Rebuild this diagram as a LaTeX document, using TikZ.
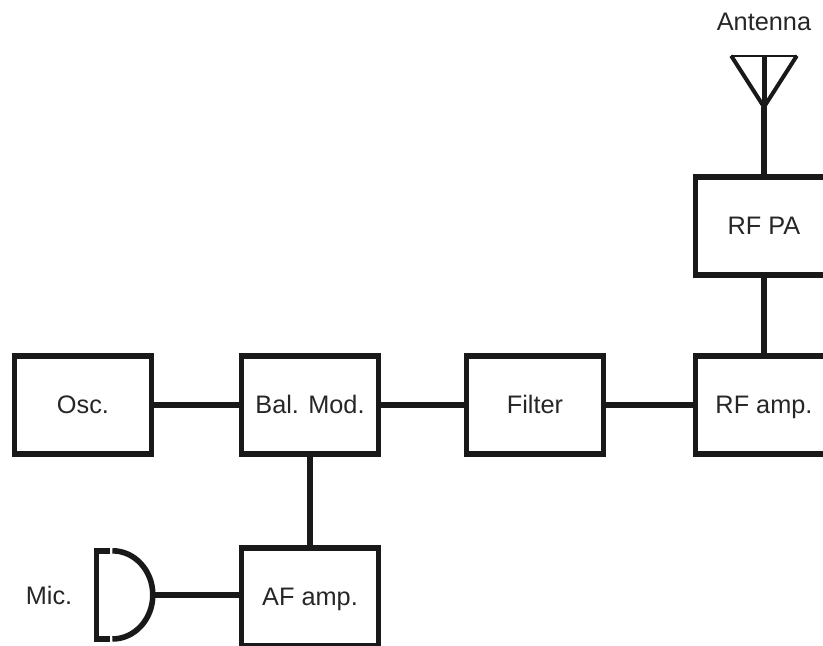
\documentclass[tikz,border=0pt]{standalone}
\usepackage{fontspec}
\setmainfont{Liberation Sans}
\usetikzlibrary{positioning}

\begin{document}
\begin{tikzpicture}[
    node distance=2.25cm and 2.25cm,
    block/.style={rectangle, draw=black!90, line width=1.3mm, minimum width=3.425cm, minimum height=2.45cm, align=center, outer sep=0pt, text height=0.47cm, text depth=0.02cm, font=\fontsize{18}{22}\selectfont, text=black!85},
    lbl/.style={align=center, inner sep=0pt, font=\fontsize{18}{22}\selectfont, text=black!85},
    wire/.style={draw=black!90, line width=1.6mm},
    thinwire/.style={draw=black!90, line width=1mm},
    micwire/.style={draw=black!90, line width=1.4mm}
]
\useasboundingbox (0,0) rectangle (20.575,16.15);

% Blocks along the main row
\node[block] (osc) at (2.075,6.025) {Osc.};
\node[block, right=2.25cm of osc] (balmod) {Bal. Mod.};
\node[block, right=2.2cm of balmod] (filter) {Filter};
\node[block, right=2.3cm of filter] (rfamp) {RF amp.};
\node[block, above=2.025cm of rfamp] (rfpa) {RF PA};
\node[block, below=2.35cm of balmod] (afamp) {AF amp.};

% Labels
\node[lbl] (micl) at (1.225,1.275) {Mic.};
\node[lbl, above=3.64cm of rfpa.north] (antl) {Antenna};

% Antenna
\coordinate[above=1.75cm of rfpa.north] (apex);
\coordinate[above=1.28cm of apex] (anttop);
\coordinate[left=0.82cm of anttop] (antleft);
\coordinate[right=0.82cm of anttop] (antright);

% Microphone
\coordinate (mictip) at (3.825,1.275);
\coordinate (mictl) at (2.75,2.38);
\coordinate (micbl) at (2.75,0.175);

% Connections
\draw[wire] (osc) -- (balmod);
\draw[wire] (balmod) -- (filter);
\draw[wire] (filter) -- (rfamp);
\draw[wire] (rfamp) -- (rfpa);
\draw[wire] (balmod) -- (afamp);
\draw[wire] (rfpa.north) -- (apex);
\draw[wire] (mictip) -- (mictip -| afamp.west);

% Antenna triangle and mast
\draw[thinwire] (antleft) -- (apex) -- (antright);
\draw[thinwire, line width=0.6mm] (antleft) -- (antright);
\draw[wire, line width=1.25mm] (apex) -- (anttop);

% Microphone body
\draw[micwire] (mictl) -- (2.41,2.38) -- (2.41,0.175) -- (micbl);
\draw[micwire] (2.81,2.38) arc[start angle=90, end angle=-90, x radius=1.01cm, y radius=1.1025cm];
\end{tikzpicture}
\end{document}
